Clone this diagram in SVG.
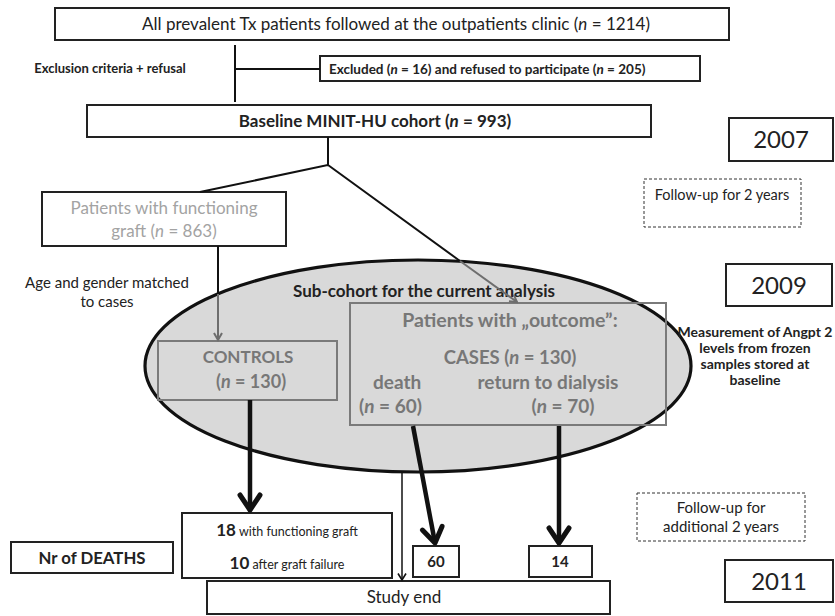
<svg xmlns="http://www.w3.org/2000/svg" width="835" height="616" viewBox="0 0 835 616">
<style>
text{font-family:Lato,"Liberation Sans",sans-serif;fill:#222}
.box{fill:#fff;stroke:#222;stroke-width:2}
.dash{fill:none;stroke:#333;stroke-width:1;stroke-dasharray:3,2}
.gbox{fill:none;stroke:#7a7a7a;stroke-width:2}
.b{font-weight:bold}
.c{text-anchor:middle}
.g{fill:#777}
.lg{fill:#a3a3a3}
.yr{font-size:24px;text-anchor:middle}
.ln{fill:none;stroke:#111;stroke-width:2}
.lgr{fill:none;stroke:#6e6e6e;stroke-width:2}
.thick{fill:none;stroke:#111;stroke-width:4.5}
</style>
<defs>
<marker id="big" markerUnits="userSpaceOnUse" viewBox="0 0 24 26" markerWidth="24" markerHeight="26" refX="21" refY="13" orient="auto">
<path d="M6,3 L21,13 L6,23" fill="none" stroke="#111" stroke-width="5" stroke-linejoin="round" stroke-linecap="round"/>
</marker>
<marker id="thin" markerUnits="userSpaceOnUse" viewBox="0 0 10 10" markerWidth="10" markerHeight="10" refX="8.5" refY="5" orient="auto">
<path d="M2,1 L8.5,5 L2,9" fill="none" stroke="#111" stroke-width="1.6"/>
</marker>
<marker id="grey" markerUnits="userSpaceOnUse" viewBox="0 0 10 10" markerWidth="10" markerHeight="10" refX="8.5" refY="5" orient="auto">
<path d="M1.5,1 L8.5,5 L1.5,9" fill="none" stroke="#6e6e6e" stroke-width="2"/>
</marker>
</defs>
<rect width="835" height="616" fill="#fff"/>

<g id="subcohort">
<ellipse cx="418" cy="366" rx="273" ry="106" fill="#d9d9d9" stroke="#111" stroke-width="3.2"/>
<text x="424" y="297" class="b c" font-size="17">Sub-cohort for the current analysis</text>
</g>

<g id="all-patients">
<rect class="box" x="55" y="8" width="674" height="32"/>
<text x="396" y="30" class="c" font-size="17">All prevalent Tx patients followed at the outpatients clinic (<tspan font-style="italic">n</tspan> = 1214)</text>
</g>

<g id="exclusion-label">
<text x="110" y="73" class="b c" font-size="13">Exclusion criteria + refusal</text>
</g>

<g id="excluded">
<rect class="box" x="320" y="56" width="380" height="25"/>
<text x="329" y="73.5" class="b" font-size="13.5">Excluded (<tspan font-style="italic">n</tspan> = 16) and refused to participate (<tspan font-style="italic">n</tspan> = 205)</text>
</g>

<g id="baseline">
<rect class="box" x="87" y="105" width="564" height="32"/>
<text x="375" y="127" class="b c" font-size="17">Baseline MINIT-HU cohort (<tspan font-style="italic">n</tspan> = 993)</text>
</g>

<g id="y2007">
<rect class="box" x="729" y="118" width="104" height="43"/>
<text x="781" y="148" class="yr">2007</text>
</g>

<g id="followup1">
<rect class="dash" x="644" y="179" width="157" height="48"/>
<text x="722" y="200" class="c" font-size="14.5">Follow-up for 2 years</text>
</g>

<g id="functioning">
<rect class="box" x="42" y="192" width="244" height="54"/>
<text x="164" y="214" class="c lg" font-size="17">Patients with functioning</text>
<text x="164" y="237" class="c lg" font-size="17">graft (<tspan font-style="italic">n</tspan> = 863)</text>
</g>

<g id="matched-label">
<text x="107" y="288" class="c" font-size="15">Age and gender matched</text>
<text x="107" y="307" class="c" font-size="15">to cases</text>
</g>

<g id="y2009">
<rect class="box" x="726" y="264" width="106" height="42"/>
<text x="779" y="293.5" class="yr">2009</text>
</g>

<g id="measurement">
<text x="755" y="337" class="b c" font-size="14">Measurement of Angpt 2</text>
<text x="755" y="353" class="b c" font-size="14">levels from frozen</text>
<text x="755" y="369" class="b c" font-size="14">samples stored at</text>
<text x="755" y="385" class="b c" font-size="14">baseline</text>
</g>

<g id="controls">
<rect class="gbox" x="158" y="341" width="179" height="59"/>
<text x="248" y="363" class="b c g" font-size="17">CONTROLS</text>
<text x="251" y="388" class="b c g" font-size="18">(<tspan font-style="italic">n</tspan> = 130)</text>
</g>

<g id="cases">
<rect class="gbox" x="350" y="303" width="316" height="122"/>
<text x="510" y="327" class="b c g" font-size="19.5">Patients with „outcome”:</text>
<text x="510" y="364" class="b c g" font-size="18.5">CASES (<tspan font-style="italic">n</tspan> = 130)</text>
<text x="373" y="389" class="b g" font-size="19">death</text>
<text x="359" y="413" class="b g" font-size="19">(<tspan font-style="italic">n</tspan> = 60)</text>
<text x="548" y="389" class="b c g" font-size="19">return to dialysis</text>
<text x="563" y="413" class="b c g" font-size="19">(<tspan font-style="italic">n</tspan> = 70)</text>
</g>

<g id="followup2">
<rect class="dash" x="637" y="493" width="168" height="48"/>
<text x="721" y="513" class="c" font-size="15">Follow-up for</text>
<text x="721" y="532" class="c" font-size="15">additional 2 years</text>
</g>

<g id="deaths-label">
<rect class="box" x="11" y="542" width="162" height="31"/>
<text x="92" y="563.5" class="b c" font-size="16.8">Nr of DEATHS</text>
</g>

<g id="deaths-controls">
<rect class="box" x="182" y="513" width="210" height="65"/>
<text x="287" y="536" class="c" font-size="12.5"><tspan class="b" font-size="17">18</tspan> with functioning graft</text>
<text x="287" y="569" class="c" font-size="12.5"><tspan class="b" font-size="17">10</tspan> after graft failure</text>
</g>

<g id="deaths-60">
<rect class="box" x="413" y="546" width="46" height="31"/>
<text x="436" y="567" class="b c" font-size="15">60</text>
</g>

<g id="deaths-14">
<rect class="box" x="529" y="546" width="63" height="31"/>
<text x="560" y="567" class="b c" font-size="15">14</text>
</g>

<g id="y2011">
<rect class="box" x="725" y="560" width="108" height="42"/>
<text x="779" y="589.5" class="yr">2011</text>
</g>

<g id="study-end">
<rect class="box" x="207" y="581" width="403" height="33"/>
<text x="404" y="603" class="c" font-size="17">Study end</text>
</g>

<g id="connectors">
<path class="ln" d="M235,45 V102 M235,69 H320"/>
<path class="ln" d="M328,137 V165 L200,192 M328,165 L460,261"/>
<path class="lgr" d="M460,261 L517,302" marker-end="url(#grey)"/>
<path class="ln" d="M218,246 V294"/>
<path class="lgr" d="M218,294 V340" marker-end="url(#grey)"/>
<path class="thick" d="M250,400 V510" marker-end="url(#big)"/>
<path class="thick" d="M413,426 L435,543" marker-end="url(#big)"/>
<path class="thick" d="M559,426 V543" marker-end="url(#big)"/>
<path fill="none" stroke="#111" stroke-width="1.5" d="M402,472 V580" marker-end="url(#thin)"/>
</g>
</svg>
